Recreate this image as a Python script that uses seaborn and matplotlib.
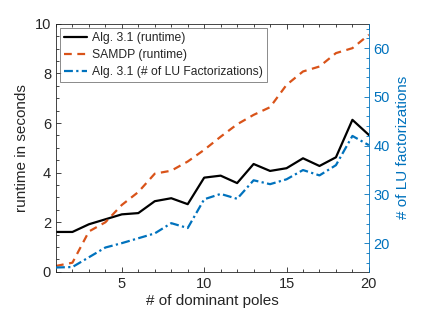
import numpy as np
import pandas as pd
import seaborn as sns
import matplotlib.pyplot as plt
from matplotlib.ticker import MultipleLocator

poles = list(range(1, 21))
alg_runtime = [1.61, 1.61, 1.92, 2.12, 2.32, 2.37, 2.85, 2.97, 2.73, 3.8,
               3.88, 3.58, 4.35, 4.07, 4.18, 4.58, 4.27, 4.62, 6.13, 5.52]
samdp_runtime = [0.24, 0.37, 1.63, 2.0, 2.7, 3.22, 3.96, 4.08, 4.45, 4.92,
                 5.45, 5.95, 6.33, 6.64, 7.54, 8.08, 8.28, 8.82, 9.02, 9.56]
alg_lu = [15.0, 15.1, 17.1, 19.1, 20.0, 21.0, 22.0, 24.1, 23.1, 29.0,
          30.1, 29.1, 32.9, 32.1, 33.1, 35.0, 33.9, 36.0, 42.0, 40.1]

df = pd.DataFrame({"poles": poles, "alg": alg_runtime,
                   "samdp": samdp_runtime, "lu": alg_lu})

sns.set_style("ticks")
plt.rcParams['font.family'] = ['Liberation Sans', 'DejaVu Sans']

black = "#000000"
orange = "#D95319"
blue = "#0072BD"
grey = "#262626"

fig = plt.figure(figsize=(4.24, 3.18), dpi=100)
ax = fig.add_axes([0.132, 0.145, 0.738, 0.78])
ax2 = ax.twinx()

sns.lineplot(data=df, x="poles", y="alg", ax=ax, color=black, lw=1.6,
             label="Alg. 3.1 (runtime)", legend=False)
sns.lineplot(data=df, x="poles", y="samdp", ax=ax, color=orange, lw=1.6,
             linestyle=(0, (3.5, 2.5)), label="SAMDP (runtime)", legend=False)
sns.lineplot(data=df, x="poles", y="lu", ax=ax2, color=blue, lw=1.6,
             linestyle=(0, (4, 1.5, 1, 1.5)),
             label="Alg. 3.1 (# of LU Factorizations)", legend=False)

ax.set_xlim(1, 20)
ax.set_ylim(0, 10)
ax2.set_ylim(14.1, 65.0)

ax.xaxis.set_major_locator(MultipleLocator(5))
ax.xaxis.set_minor_locator(MultipleLocator(1))
ax.yaxis.set_major_locator(MultipleLocator(2))
ax.yaxis.set_minor_locator(MultipleLocator(0.5))
ax2.yaxis.set_major_locator(MultipleLocator(10))
ax2.yaxis.set_minor_locator(MultipleLocator(2))

ax.tick_params(which="both", direction="in", top=True, right=False,
               labelsize=10.5, colors=grey, width=0.6)
ax.tick_params(which="major", length=3.5)
ax.tick_params(which="minor", length=2)
ax2.tick_params(which="both", direction="in", colors=blue, labelsize=10.5, width=0.6)
ax2.tick_params(which="major", length=3.5)
ax2.tick_params(which="minor", length=2)

for s in ["left", "top", "bottom"]:
    ax.spines[s].set_color(grey)
    ax.spines[s].set_linewidth(0.6)
    ax2.spines[s].set_visible(False)
ax.spines["right"].set_visible(False)
ax2.spines["right"].set_color(blue)
ax2.spines["right"].set_linewidth(0.6)

ax.set_xlabel("# of dominant poles", fontsize=11, color=grey, labelpad=2)
ax.set_ylabel("runtime in seconds", fontsize=11, color=grey, labelpad=4)
ax2.set_ylabel("# of LU factorizations", fontsize=11, color=blue, labelpad=4)

h1, l1 = ax.get_legend_handles_labels()
h2, l2 = ax2.get_legend_handles_labels()
leg = ax2.legend(h1 + h2, l1 + l2, loc="upper left", fontsize=8.7,
                 frameon=True, fancybox=False, edgecolor="#555555",
                 borderpad=0.35, labelspacing=0.4, handlelength=1.9,
                 handletextpad=0.4, borderaxespad=0.35)
leg.get_frame().set_linewidth(0.6)

fig.savefig("out.png", dpi=100)
